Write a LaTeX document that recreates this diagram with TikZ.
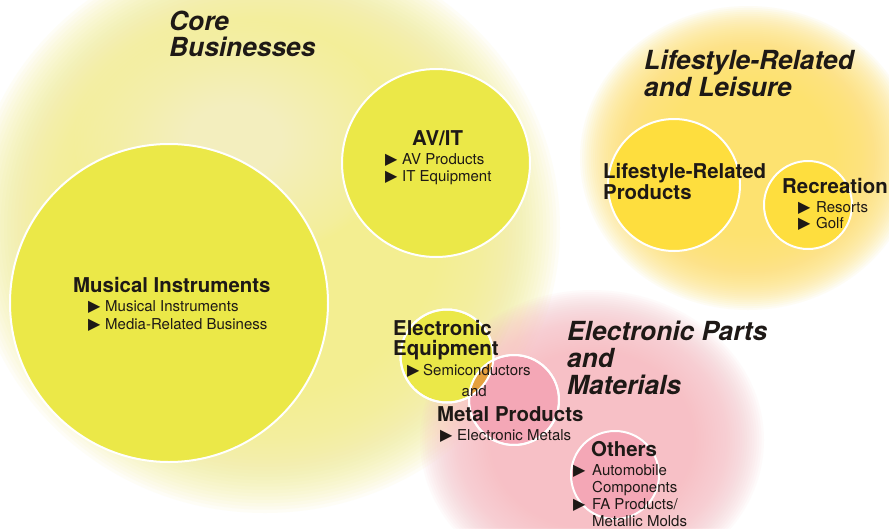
\documentclass[tikz,border=0pt]{standalone}
\usepackage{fontspec}
\setmainfont{TeX Gyre Heros}
\newfontfamily\symfont{DejaVu Sans}

\definecolor{ink}{RGB}{30,25,22}
\definecolor{coreyellow}{RGB}{235,232,72}
\definecolor{lifeyellow}{RGB}{254,222,62}
\definecolor{pinkdisc}{RGB}{244,167,182}
\definecolor{overlapc}{RGB}{229,160,62}
\definecolor{corehaze}{RGB}{243,238,145}
\definecolor{lifehaze}{RGB}{253,226,112}
\definecolor{pinkhaze}{RGB}{247,192,198}

% soft halo built from stacked translucent ellipses:
% #1 colour, #2 centre, #3 x radius, #4 y radius, #5 per-ring opacity, #6 inner fraction
\newcommand\softhalo[6]{%
  \foreach \k in {0,...,39}{%
    \pgfmathsetmacro\hf{1-(1-#6)*\k/39}%
    \fill[#1, opacity=#5] #2 ellipse [x radius=\hf*#3, y radius=\hf*#4];
  }}

\newcommand\bultri[1]{\makebox[#1][l]{\symfont\fontsize{16}{16}\selectfont ▶}}

\begin{document}
\begin{tikzpicture}[x=1pt,y=-1pt,
  disc/.style={circle, inner sep=0pt, draw=white, line width=2pt},
  txt/.style={anchor=base west, inner sep=0pt, text=ink},
  head/.style={txt, font=\bfseries\fontsize{20.4}{20.4}\selectfont},
  sub/.style={txt, font=\fontsize{15}{15}\selectfont},
  grouptitle/.style={txt, font=\bfseries\itshape\fontsize{26.3}{26.3}\selectfont}]

\useasboundingbox (0,0) rectangle (889,528);
\fill[white] (0,0) rectangle (889,528);

\begin{scope}
\clip (0,0) rectangle (889,528);

% group halos
\softhalo{corehaze}{(265,228)}{295}{285}{0.075}{0.55}
\softhalo{white}{(235,140)}{160}{120}{0.02}{0.3}
\softhalo{lifehaze}{(748,158)}{168}{152}{0.075}{0.5}
\softhalo{pinkhaze}{(592,440)}{172}{150}{0.07}{0.45}

% business discs
\node[disc, fill=coreyellow, minimum size=318pt] (mi) at (169,303) {};
\node[disc, fill=coreyellow, minimum size=188pt] (av) at (436,163) {};
\node[disc, fill=lifeyellow, minimum size=132pt] (lp) at (674,185) {};
\node[disc, fill=lifeyellow, minimum size=88pt] (rc) at (808,205) {};
\node[disc, fill=coreyellow, minimum size=93pt] (ee) at (447,356) {};
\node[disc, fill=pinkdisc, minimum size=90pt] (mp) at (514,400) {};
\node[disc, fill=pinkdisc, minimum size=88pt] (ot) at (615,475) {};

% overlap of electronic equipment and metal products
\begin{scope}
  \clip (447,356) circle (46.5);
  \fill[overlapc] (514,400) circle (45);
\end{scope}
\draw[white, line width=2pt] (ee.center) circle (46.5);
\draw[white, line width=2pt] (mp.center) circle (45);
\end{scope}

% group titles
\node[grouptitle] (t1a) at (169,30) {Core};
\node[grouptitle] (t1b) at (169,56.5) {Businesses};
\node[grouptitle] (t2a) at (644,69.5) {Lifestyle-Related};
\node[grouptitle] (t2b) at (644,96.5) {and Leisure};
\node[grouptitle] (t3a) at (567,340) {Electronic Parts};
\node[grouptitle] (t3b) at (567,367) {and};
\node[grouptitle] (t3c) at (567,394) {Materials};

% AV/IT
\node[head] (avh) at (412,145) {AV/IT};
\node[sub] (av1) at (385,164) {\bultri{17pt}AV Products};
\node[sub] (av2) at (385,181) {\bultri{17pt}IT Equipment};

% Musical Instruments
\node[head] (mih) at (73,292) {Musical Instruments};
\node[sub] (mi1) at (88,311.5) {\bultri{17pt}Musical Instruments};
\node[sub] (mi2) at (88,329) {\bultri{17pt}Media-Related Business};

% Lifestyle-Related Products
\node[head] (lph1) at (603,178) {Lifestyle-Related};
\node[head] (lph2) at (603,199) {Products};

% Recreation
\node[head] (rch) at (782,193) {Recreation};
\node[sub] (rc1) at (798,212) {\bultri{18pt}Resorts};
\node[sub] (rc2) at (798,228.5) {\bultri{18pt}Golf};

% Electronic Equipment and Metal Products
\node[head] (eeh1) at (393,335) {Electronic};
\node[head] (eeh2) at (393,355.5) {Equipment};
\node[sub] (ee1) at (407,375) {\bultri{16pt}Semiconductors};
\node[sub] (and) at (461.5,396) {and};
\node[head] (mph) at (437,421) {Metal Products};
\node[sub] (mp1) at (440,440) {\bultri{17pt}Electronic Metals};

% Others
\node[head] (oth) at (591,456) {Others};
\node[sub] (ot1) at (573,475) {\bultri{19pt}Automobile};
\node[sub] (ot2) at (592,492) {Components};
\node[sub] (ot3) at (573,509) {\bultri{19pt}FA Products/};
\node[sub] (ot4) at (592,526) {Metallic Molds};

\end{tikzpicture}
\end{document}
